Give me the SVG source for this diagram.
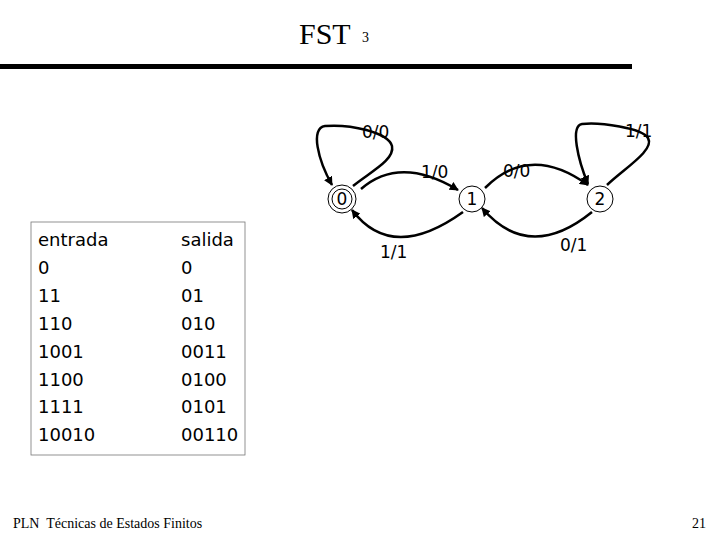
<svg xmlns="http://www.w3.org/2000/svg" width="720" height="540" viewBox="0 0 720 540">
<style>
.t{font-family:"Liberation Serif","Times New Roman",serif;fill:#000}
.s{font-family:"DejaVu Sans",Verdana,sans-serif;fill:#000}
.tb{font-family:"DejaVu Sans",Verdana,sans-serif;font-size:18px;fill:#000}
.lb{font-family:"DejaVu Sans",Verdana,sans-serif;font-size:17px;fill:#000}
.e{fill:none;stroke:#000;stroke-width:2.5}
.n{fill:#fff;stroke:#000;stroke-width:1}
</style>
<defs>
<marker id="ah" viewBox="0 0 10 10" refX="9" refY="5" markerWidth="3.6" markerHeight="3.6" orient="auto" markerUnits="strokeWidth">
<path d="M0,0 L10,5 L0,10 z" fill="#000"/>
</marker>
</defs>
<rect width="720" height="540" fill="#fff"/>
<g id="title">
<text class="t" x="299" y="44" font-size="30">FST</text>
<text class="t" x="362" y="42" font-size="14">3</text>
</g>
<rect x="0" y="64" width="632" height="5" fill="#000"/>
<g id="table">
<rect x="31" y="222" width="214" height="233" fill="none" stroke="#777" stroke-width="0.8"/>
<text class="tb" x="38" y="246">entrada</text>
<text class="tb" x="38" y="274">0</text>
<text class="tb" x="38" y="302">11</text>
<text class="tb" x="38" y="330">110</text>
<text class="tb" x="38" y="358">1001</text>
<text class="tb" x="38" y="386">1100</text>
<text class="tb" x="38" y="413">1111</text>
<text class="tb" x="38" y="441">10010</text>
<text class="tb" x="181" y="246">salida</text>
<text class="tb" x="181" y="274">0</text>
<text class="tb" x="181" y="302">01</text>
<text class="tb" x="181" y="330">010</text>
<text class="tb" x="181" y="358">0011</text>
<text class="tb" x="181" y="386">0100</text>
<text class="tb" x="181" y="413">0101</text>
<text class="tb" x="181" y="441">00110</text>
</g>
<g id="connectors">
<path class="e" d="M353,186 C370,172 395,160 392,146 C388,132 350,124 325,126 C310,128 318,160 332,185" marker-end="url(#ah)"/>
<path class="e" d="M361,189 Q400,155 458,190" marker-end="url(#ah)"/>
<path class="e" d="M463,212 Q392,263 352,210" marker-end="url(#ah)"/>
<path class="e" d="M485,188 Q530,143 588,185" marker-end="url(#ah)"/>
<path class="e" d="M592,212 Q529,263 482,208" marker-end="url(#ah)"/>
<path class="e" d="M607,185 C625,168 655,150 648,138 C642,128 600,122 582,124 C570,126 578,160 588,184" marker-end="url(#ah)"/>
<text class="lb" x="362" y="138">0/0</text>
<text class="lb" x="421" y="178">1/0</text>
<text class="lb" x="380" y="258">1/1</text>
<text class="lb" x="503" y="177">0/0</text>
<text class="lb" x="560" y="251">0/1</text>
<text class="lb" x="625" y="137">1/1</text>
</g>
<g id="state0">
<circle class="n" cx="342" cy="199" r="14" stroke-width="3"/>
<circle class="n" cx="342" cy="199" r="10" stroke-width="1.2"/>
<text class="s" x="342" y="205" font-size="17" text-anchor="middle">0</text>
</g>
<g id="state1">
<circle class="n" cx="472" cy="199" r="13"/>
<text class="s" x="472" y="205" font-size="17" text-anchor="middle">1</text>
</g>
<g id="state2">
<circle class="n" cx="600" cy="199" r="13"/>
<text class="s" x="600" y="205" font-size="17" text-anchor="middle">2</text>
</g>
<g id="footer">
<text class="t" x="13" y="528" font-size="14" xml:space="preserve">PLN  Técnicas de Estados Finitos</text>
<text class="t" x="692" y="528" font-size="14">21</text>
</g>
</svg>
